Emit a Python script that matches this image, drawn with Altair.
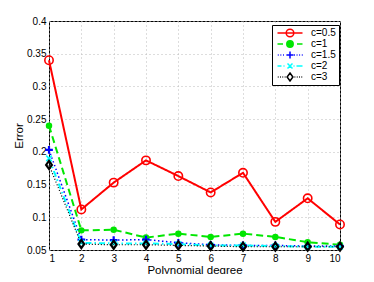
import altair as alt
import pandas as pd

degrees = [1, 2, 3, 4, 5, 6, 7, 8, 9, 10]
series_names = ["c=0.5", "c=1", "c=1.5", "c=2", "c=3"]
err_c05 = [0.340, 0.112, 0.153, 0.187, 0.163, 0.138, 0.168, 0.093, 0.129, 0.089]
err_c1 = [0.240, 0.080, 0.081, 0.069, 0.075, 0.070, 0.075, 0.070, 0.062, 0.058]
err_c15 = [0.203, 0.066, 0.065, 0.066, 0.061, 0.058, 0.057, 0.057, 0.056, 0.056]
err_c2 = [0.190, 0.061, 0.060, 0.060, 0.059, 0.057, 0.057, 0.056, 0.055, 0.055]
err_c3 = [0.180, 0.059, 0.058, 0.058, 0.057, 0.056, 0.055, 0.055, 0.055, 0.055]
y_ticks = [0.05, 0.1, 0.15, 0.2, 0.25, 0.3, 0.35, 0.4]

all_errs = [err_c05, err_c1, err_c15, err_c2, err_c3]
rows = []
for name, errs in zip(series_names, all_errs):
    for d, e in zip(degrees, errs):
        rows.append({"degree": d, "error": e, "series": name})
df = pd.DataFrame(rows)

colors = ["#ff0000", "#00e600", "#0000ff", "#00ffff", "#000000"]
fills = ["transparent", "#00e600", "transparent", "transparent", "transparent"]

# marker shapes on the chart
PLUS = "M-1,0H1M0,-1V1"
XMARK = "M-1,-1L1,1M-1,1L1,-1"
DIAMOND = "M0,-1L0.72,0L0,1L-0.72,0Z"
styles = [
    dict(dash=[1, 0], width=2.0, shape="circle", size=70, filled=False, pw=1.6),
    dict(dash=[7, 4], width=2.0, shape="circle", size=42, filled=True, pw=1.0),
    dict(dash=[1.5, 2.5], width=1.5, shape=PLUS, size=60, filled=False, pw=2.2),
    dict(dash=[6, 3, 1.5, 3], width=2.0, shape=XMARK, size=30, filled=False, pw=1.6),
    dict(dash=[1, 2], width=1.2, shape=DIAMOND, size=64, filled=False, pw=2.2),
]

# legend symbols: line sample 25px long with the marker at its middle
LEG_SIZE = 16
HALF = LEG_SIZE ** 0.5 / 2
MID = 12.5


def ux(px):
    return (px - HALF) / HALF


def uy(py):
    return py / HALF


def segs(pattern):
    return "".join(f"M{ux(a):.3f},0H{ux(b):.3f}" for a, b in pattern)


def circ(r):
    cx = ux(MID)
    ru = uy(r)
    return (f"M{cx + ru:.3f},0A{ru:.3f},{ru:.3f} 0 1,1 {cx - ru:.3f},0"
            f"A{ru:.3f},{ru:.3f} 0 1,1 {cx + ru:.3f},0Z")


def plus(r):
    return (f"M{ux(MID - r):.3f},0H{ux(MID + r):.3f}"
            f"M{ux(MID):.3f},{uy(-r):.3f}V{uy(r):.3f}")


def xmark(r):
    return (f"M{ux(MID - r):.3f},{uy(-r):.3f}L{ux(MID + r):.3f},{uy(r):.3f}"
            f"M{ux(MID - r):.3f},{uy(r):.3f}L{ux(MID + r):.3f},{uy(-r):.3f}")


def diamond(w, h):
    return (f"M{ux(MID):.3f},{uy(-h):.3f}L{ux(MID + w):.3f},0"
            f"L{ux(MID):.3f},{uy(h):.3f}L{ux(MID - w):.3f},0Z")


leg_shapes = [
    segs([(0, 25)]) + circ(3.8),
    segs([(0, 5.5), (19.5, 25)]) + circ(3.2),
    segs([(0.3 + 2.6 * i, 1.2 + 2.6 * i) for i in range(3)]
         + [(16.5 + 2.6 * i, 17.4 + 2.6 * i) for i in range(4)]) + plus(3.6),
    segs([(0, 4), (6, 7), (16, 17), (19, 25)]) + xmark(2.5),
    segs([(0.3 + 2.3 * i, 1.1 + 2.3 * i) for i in range(4)]
         + [(17 + 2.3 * i, 17.8 + 2.3 * i) for i in range(4)]) + diamond(2.9, 4.0),
]

xenc = alt.X("degree:Q", title="Polynomial degree",
             scale=alt.Scale(domain=[1, 10], nice=False),
             axis=alt.Axis(values=degrees, format="d"))
yenc = alt.Y("error:Q", title="Error",
             scale=alt.Scale(domain=[0.05, 0.4], nice=False, zero=False),
             axis=alt.Axis(values=y_ticks, format=".2~f"))

layers = []
for name, col, st in zip(series_names, colors, styles):
    sub = alt.Chart(df).transform_filter(alt.datum.series == name)
    line = sub.mark_line(color=col, strokeWidth=st["width"], strokeDash=st["dash"]).encode(
        x=xenc, y=yenc)
    if st["filled"]:
        pt = sub.mark_point(shape=st["shape"], size=st["size"], filled=True,
                            color=col, opacity=1)
    else:
        pt = sub.mark_point(shape=st["shape"], size=st["size"], filled=False,
                            color=col, strokeWidth=st["pw"], opacity=1)
    layers.append(line)
    layers.append(pt.encode(x=xenc, y=yenc))

legend_layer = alt.Chart(df).transform_filter("false").mark_point(
    filled=False, opacity=1).encode(
    x=xenc, y=yenc,
    stroke=alt.Stroke("series:N", scale=alt.Scale(domain=series_names, range=colors),
                      legend=alt.Legend(title=None, orient="none", legendX=223, legendY=4,
                                        symbolSize=LEG_SIZE, symbolStrokeWidth=1.5,
                                        labelFontSize=10, labelOffset=30.5 - 2 * HALF,
                                        rowPadding=0, clipHeight=11,
                                        padding=2.5, strokeColor="#000", fillColor="#fff",
                                        labelFont="Liberation Sans", labelColor="#000")),
    fill=alt.Fill("series:N", scale=alt.Scale(domain=series_names, range=fills)),
    shape=alt.Shape("series:N", scale=alt.Scale(domain=series_names, range=leg_shapes)),
)

chart = alt.layer(*layers, legend_layer).properties(
    width=291, height=229,
    autosize=alt.AutoSizeParams(type="none"),
    padding={"left": 41, "top": 13, "right": 18, "bottom": 24},
).configure_view(stroke="#000", strokeWidth=1).configure_axis(
    labelFont="Liberation Sans", titleFont="Liberation Sans",
    labelFontSize=10, titleFontSize=11.5, titleFontWeight="normal",
    labelColor="#000", titleColor="#000",
    grid=True, gridColor="#bbbbbb", gridDash=[1, 3], gridWidth=1,
    ticks=False, domain=False, labelPadding=3,
).configure_axisY(titlePadding=2).configure_axisX(titlePadding=1)

chart.save("out.html", embed_options={"renderer": "svg", "actions": False})
